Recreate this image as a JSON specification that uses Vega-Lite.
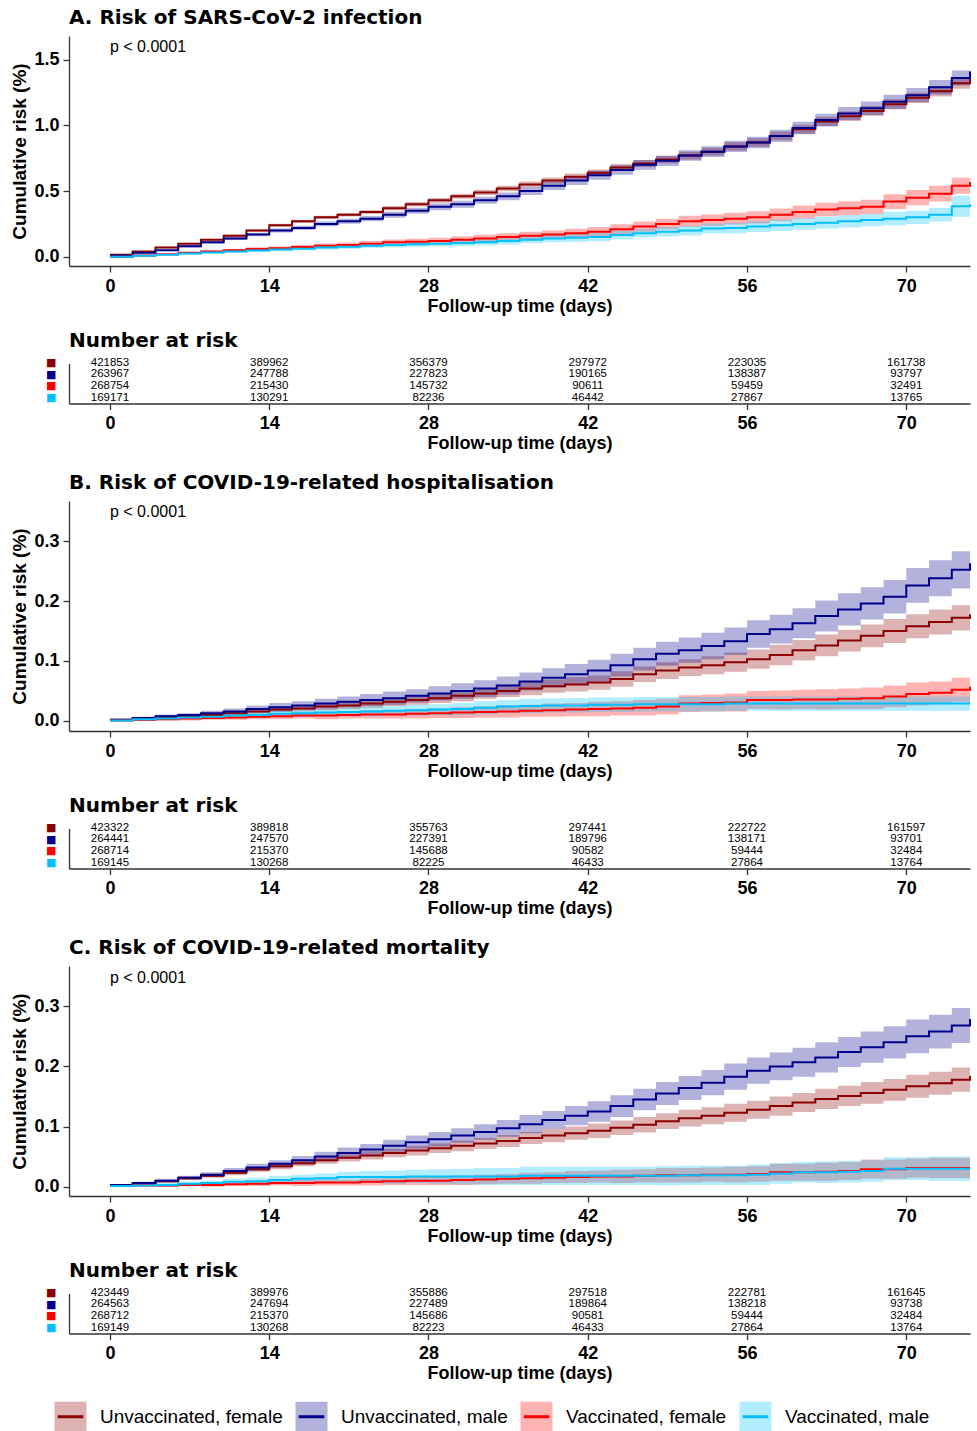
{
"$schema": "https://vega.github.io/schema/vega-lite/v6.json",
"background": "white",
"padding": {"left": 10, "top": 8, "right": 7, "bottom": 0},
"bounds": "flush",
"spacing": 97.5,
"config": {
 "view": {"stroke": null},
 "font": "Liberation Sans",
 "axis": {"domainColor": "#333", "tickColor": "#333", "tickSize": 6, "domainWidth": 1.3, "tickWidth": 1.3, "labelFont": "Liberation Sans", "labelFontSize": 18, "labelFontWeight": "bold", "labelColor": "#000", "titleFont": "Liberation Sans", "titleFontSize": 18, "titleFontWeight": "bold", "titleColor": "#000", "grid": false, "labelFlush": false, "labelOverlap": false},
 "axisX": {"labelPadding": 5, "titlePadding": 2},
 "axisY": {"labelPadding": 4, "titlePadding": 4, "titleFontSize": 19},
 "title": {"font": "DejaVu Sans", "fontSize": 20, "fontWeight": "bold", "anchor": "start", "frame": "group", "color": "#000"},
 "legend": {"labelFont": "Liberation Sans", "labelFontSize": 19, "labelColor": "#000", "labelOffset": 12, "columnPadding": 6, "symbolSize": 1024, "symbolStrokeWidth": 3, "labelLimit": 400}
},
"resolve": {"scale": {"fill": "shared", "stroke": "shared"}, "legend": {"fill": "shared", "stroke": "shared"}},
"datasets": {
"km": [
{"p":"A","g":"UF","d":0,"y":0.015,"lo":0.011,"hi":0.019},
{"p":"A","g":"UF","d":2,"y":0.04,"lo":0.035,"hi":0.045},
{"p":"A","g":"UF","d":4,"y":0.07,"lo":0.064,"hi":0.076},
{"p":"A","g":"UF","d":6,"y":0.10,"lo":0.093,"hi":0.107},
{"p":"A","g":"UF","d":8,"y":0.13,"lo":0.122,"hi":0.138},
{"p":"A","g":"UF","d":10,"y":0.16,"lo":0.151,"hi":0.169},
{"p":"A","g":"UF","d":12,"y":0.20,"lo":0.19,"hi":0.21},
{"p":"A","g":"UF","d":14,"y":0.24,"lo":0.229,"hi":0.251},
{"p":"A","g":"UF","d":16,"y":0.27,"lo":0.258,"hi":0.282},
{"p":"A","g":"UF","d":18,"y":0.30,"lo":0.287,"hi":0.313},
{"p":"A","g":"UF","d":20,"y":0.32,"lo":0.306,"hi":0.334},
{"p":"A","g":"UF","d":22,"y":0.34,"lo":0.325,"hi":0.355},
{"p":"A","g":"UF","d":24,"y":0.37,"lo":0.354,"hi":0.386},
{"p":"A","g":"UF","d":26,"y":0.40,"lo":0.383,"hi":0.417},
{"p":"A","g":"UF","d":28,"y":0.43,"lo":0.412,"hi":0.448},
{"p":"A","g":"UF","d":30,"y":0.46,"lo":0.441,"hi":0.479},
{"p":"A","g":"UF","d":32,"y":0.49,"lo":0.47,"hi":0.51},
{"p":"A","g":"UF","d":34,"y":0.52,"lo":0.499,"hi":0.541},
{"p":"A","g":"UF","d":36,"y":0.55,"lo":0.528,"hi":0.572},
{"p":"A","g":"UF","d":38,"y":0.58,"lo":0.557,"hi":0.603},
{"p":"A","g":"UF","d":40,"y":0.61,"lo":0.586,"hi":0.634},
{"p":"A","g":"UF","d":42,"y":0.64,"lo":0.615,"hi":0.665},
{"p":"A","g":"UF","d":44,"y":0.68,"lo":0.654,"hi":0.706},
{"p":"A","g":"UF","d":46,"y":0.71,"lo":0.683,"hi":0.737},
{"p":"A","g":"UF","d":48,"y":0.74,"lo":0.712,"hi":0.768},
{"p":"A","g":"UF","d":50,"y":0.77,"lo":0.741,"hi":0.799},
{"p":"A","g":"UF","d":52,"y":0.80,"lo":0.77,"hi":0.83},
{"p":"A","g":"UF","d":54,"y":0.84,"lo":0.809,"hi":0.871},
{"p":"A","g":"UF","d":56,"y":0.87,"lo":0.838,"hi":0.902},
{"p":"A","g":"UF","d":58,"y":0.92,"lo":0.887,"hi":0.953},
{"p":"A","g":"UF","d":60,"y":0.97,"lo":0.936,"hi":1.004},
{"p":"A","g":"UF","d":62,"y":1.03,"lo":0.995,"hi":1.065},
{"p":"A","g":"UF","d":64,"y":1.07,"lo":1.034,"hi":1.106},
{"p":"A","g":"UF","d":66,"y":1.11,"lo":1.073,"hi":1.147},
{"p":"A","g":"UF","d":68,"y":1.16,"lo":1.122,"hi":1.198},
{"p":"A","g":"UF","d":70,"y":1.21,"lo":1.171,"hi":1.249},
{"p":"A","g":"UF","d":72,"y":1.26,"lo":1.22,"hi":1.30},
{"p":"A","g":"UF","d":74,"y":1.32,"lo":1.279,"hi":1.361},
{"p":"A","g":"UF","d":75.6,"y":1.37,"lo":1.328,"hi":1.412},
{"p":"A","g":"UM","d":0,"y":0.01,"lo":0.005,"hi":0.015},
{"p":"A","g":"UM","d":2,"y":0.03,"lo":0.024,"hi":0.036},
{"p":"A","g":"UM","d":4,"y":0.05,"lo":0.042,"hi":0.058},
{"p":"A","g":"UM","d":6,"y":0.08,"lo":0.071,"hi":0.089},
{"p":"A","g":"UM","d":8,"y":0.11,"lo":0.099,"hi":0.121},
{"p":"A","g":"UM","d":10,"y":0.14,"lo":0.128,"hi":0.152},
{"p":"A","g":"UM","d":12,"y":0.17,"lo":0.157,"hi":0.183},
{"p":"A","g":"UM","d":14,"y":0.20,"lo":0.185,"hi":0.215},
{"p":"A","g":"UM","d":16,"y":0.22,"lo":0.204,"hi":0.236},
{"p":"A","g":"UM","d":18,"y":0.25,"lo":0.232,"hi":0.268},
{"p":"A","g":"UM","d":20,"y":0.27,"lo":0.251,"hi":0.289},
{"p":"A","g":"UM","d":22,"y":0.29,"lo":0.27,"hi":0.31},
{"p":"A","g":"UM","d":24,"y":0.32,"lo":0.298,"hi":0.342},
{"p":"A","g":"UM","d":26,"y":0.35,"lo":0.327,"hi":0.373},
{"p":"A","g":"UM","d":28,"y":0.38,"lo":0.355,"hi":0.405},
{"p":"A","g":"UM","d":30,"y":0.40,"lo":0.374,"hi":0.426},
{"p":"A","g":"UM","d":32,"y":0.43,"lo":0.403,"hi":0.457},
{"p":"A","g":"UM","d":34,"y":0.46,"lo":0.431,"hi":0.489},
{"p":"A","g":"UM","d":36,"y":0.50,"lo":0.47,"hi":0.53},
{"p":"A","g":"UM","d":38,"y":0.54,"lo":0.508,"hi":0.572},
{"p":"A","g":"UM","d":40,"y":0.58,"lo":0.547,"hi":0.613},
{"p":"A","g":"UM","d":42,"y":0.62,"lo":0.586,"hi":0.654},
{"p":"A","g":"UM","d":44,"y":0.66,"lo":0.624,"hi":0.696},
{"p":"A","g":"UM","d":46,"y":0.70,"lo":0.663,"hi":0.737},
{"p":"A","g":"UM","d":48,"y":0.73,"lo":0.691,"hi":0.769},
{"p":"A","g":"UM","d":50,"y":0.77,"lo":0.73,"hi":0.81},
{"p":"A","g":"UM","d":52,"y":0.80,"lo":0.759,"hi":0.841},
{"p":"A","g":"UM","d":54,"y":0.84,"lo":0.797,"hi":0.883},
{"p":"A","g":"UM","d":56,"y":0.87,"lo":0.826,"hi":0.914},
{"p":"A","g":"UM","d":58,"y":0.92,"lo":0.874,"hi":0.966},
{"p":"A","g":"UM","d":60,"y":0.98,"lo":0.933,"hi":1.027},
{"p":"A","g":"UM","d":62,"y":1.04,"lo":0.992,"hi":1.088},
{"p":"A","g":"UM","d":64,"y":1.09,"lo":1.04,"hi":1.14},
{"p":"A","g":"UM","d":66,"y":1.13,"lo":1.079,"hi":1.181},
{"p":"A","g":"UM","d":68,"y":1.18,"lo":1.127,"hi":1.233},
{"p":"A","g":"UM","d":70,"y":1.23,"lo":1.176,"hi":1.284},
{"p":"A","g":"UM","d":72,"y":1.29,"lo":1.235,"hi":1.345},
{"p":"A","g":"UM","d":74,"y":1.36,"lo":1.303,"hi":1.417},
{"p":"A","g":"UM","d":75.6,"y":1.41,"lo":1.352,"hi":1.468},
{"p":"A","g":"VF","d":0,"y":0.0,"lo":0.0,"hi":0.002},
{"p":"A","g":"VF","d":2,"y":0.01,"lo":0.006,"hi":0.014},
{"p":"A","g":"VF","d":4,"y":0.02,"lo":0.015,"hi":0.025},
{"p":"A","g":"VF","d":6,"y":0.03,"lo":0.023,"hi":0.037},
{"p":"A","g":"VF","d":8,"y":0.04,"lo":0.032,"hi":0.048},
{"p":"A","g":"VF","d":10,"y":0.05,"lo":0.04,"hi":0.06},
{"p":"A","g":"VF","d":12,"y":0.06,"lo":0.048,"hi":0.072},
{"p":"A","g":"VF","d":14,"y":0.065,"lo":0.052,"hi":0.078},
{"p":"A","g":"VF","d":16,"y":0.075,"lo":0.06,"hi":0.09},
{"p":"A","g":"VF","d":18,"y":0.085,"lo":0.069,"hi":0.101},
{"p":"A","g":"VF","d":20,"y":0.09,"lo":0.072,"hi":0.108},
{"p":"A","g":"VF","d":22,"y":0.10,"lo":0.08,"hi":0.12},
{"p":"A","g":"VF","d":24,"y":0.11,"lo":0.089,"hi":0.131},
{"p":"A","g":"VF","d":26,"y":0.115,"lo":0.092,"hi":0.138},
{"p":"A","g":"VF","d":28,"y":0.12,"lo":0.096,"hi":0.144},
{"p":"A","g":"VF","d":30,"y":0.13,"lo":0.104,"hi":0.156},
{"p":"A","g":"VF","d":32,"y":0.14,"lo":0.112,"hi":0.168},
{"p":"A","g":"VF","d":34,"y":0.15,"lo":0.121,"hi":0.179},
{"p":"A","g":"VF","d":36,"y":0.16,"lo":0.129,"hi":0.191},
{"p":"A","g":"VF","d":38,"y":0.17,"lo":0.138,"hi":0.202},
{"p":"A","g":"VF","d":40,"y":0.18,"lo":0.146,"hi":0.214},
{"p":"A","g":"VF","d":42,"y":0.19,"lo":0.154,"hi":0.226},
{"p":"A","g":"VF","d":44,"y":0.21,"lo":0.173,"hi":0.247},
{"p":"A","g":"VF","d":46,"y":0.23,"lo":0.191,"hi":0.269},
{"p":"A","g":"VF","d":48,"y":0.25,"lo":0.21,"hi":0.29},
{"p":"A","g":"VF","d":50,"y":0.27,"lo":0.228,"hi":0.312},
{"p":"A","g":"VF","d":52,"y":0.28,"lo":0.236,"hi":0.324},
{"p":"A","g":"VF","d":54,"y":0.29,"lo":0.245,"hi":0.335},
{"p":"A","g":"VF","d":56,"y":0.30,"lo":0.253,"hi":0.347},
{"p":"A","g":"VF","d":58,"y":0.32,"lo":0.272,"hi":0.368},
{"p":"A","g":"VF","d":60,"y":0.34,"lo":0.29,"hi":0.39},
{"p":"A","g":"VF","d":62,"y":0.36,"lo":0.308,"hi":0.412},
{"p":"A","g":"VF","d":64,"y":0.37,"lo":0.317,"hi":0.423},
{"p":"A","g":"VF","d":66,"y":0.38,"lo":0.325,"hi":0.435},
{"p":"A","g":"VF","d":68,"y":0.42,"lo":0.364,"hi":0.476},
{"p":"A","g":"VF","d":70,"y":0.45,"lo":0.392,"hi":0.508},
{"p":"A","g":"VF","d":72,"y":0.48,"lo":0.42,"hi":0.54},
{"p":"A","g":"VF","d":74,"y":0.54,"lo":0.479,"hi":0.601},
{"p":"A","g":"VF","d":75.6,"y":0.57,"lo":0.508,"hi":0.632},
{"p":"A","g":"VM","d":0,"y":0.0,"lo":0.0,"hi":0.002},
{"p":"A","g":"VM","d":2,"y":0.008,"lo":0.005,"hi":0.011},
{"p":"A","g":"VM","d":4,"y":0.015,"lo":0.01,"hi":0.02},
{"p":"A","g":"VM","d":6,"y":0.025,"lo":0.019,"hi":0.031},
{"p":"A","g":"VM","d":8,"y":0.033,"lo":0.025,"hi":0.041},
{"p":"A","g":"VM","d":10,"y":0.04,"lo":0.031,"hi":0.049},
{"p":"A","g":"VM","d":12,"y":0.048,"lo":0.038,"hi":0.058},
{"p":"A","g":"VM","d":14,"y":0.055,"lo":0.043,"hi":0.067},
{"p":"A","g":"VM","d":16,"y":0.062,"lo":0.049,"hi":0.075},
{"p":"A","g":"VM","d":18,"y":0.07,"lo":0.055,"hi":0.085},
{"p":"A","g":"VM","d":20,"y":0.077,"lo":0.061,"hi":0.093},
{"p":"A","g":"VM","d":22,"y":0.085,"lo":0.068,"hi":0.102},
{"p":"A","g":"VM","d":24,"y":0.09,"lo":0.071,"hi":0.109},
{"p":"A","g":"VM","d":26,"y":0.095,"lo":0.075,"hi":0.115},
{"p":"A","g":"VM","d":28,"y":0.10,"lo":0.078,"hi":0.122},
{"p":"A","g":"VM","d":30,"y":0.105,"lo":0.082,"hi":0.128},
{"p":"A","g":"VM","d":32,"y":0.11,"lo":0.086,"hi":0.134},
{"p":"A","g":"VM","d":34,"y":0.12,"lo":0.094,"hi":0.146},
{"p":"A","g":"VM","d":36,"y":0.13,"lo":0.103,"hi":0.157},
{"p":"A","g":"VM","d":38,"y":0.14,"lo":0.111,"hi":0.169},
{"p":"A","g":"VM","d":40,"y":0.145,"lo":0.115,"hi":0.175},
{"p":"A","g":"VM","d":42,"y":0.15,"lo":0.119,"hi":0.181},
{"p":"A","g":"VM","d":44,"y":0.165,"lo":0.132,"hi":0.198},
{"p":"A","g":"VM","d":46,"y":0.18,"lo":0.146,"hi":0.214},
{"p":"A","g":"VM","d":48,"y":0.19,"lo":0.154,"hi":0.226},
{"p":"A","g":"VM","d":50,"y":0.20,"lo":0.163,"hi":0.237},
{"p":"A","g":"VM","d":52,"y":0.215,"lo":0.177,"hi":0.253},
{"p":"A","g":"VM","d":54,"y":0.22,"lo":0.18,"hi":0.26},
{"p":"A","g":"VM","d":56,"y":0.23,"lo":0.189,"hi":0.271},
{"p":"A","g":"VM","d":58,"y":0.24,"lo":0.197,"hi":0.283},
{"p":"A","g":"VM","d":60,"y":0.25,"lo":0.206,"hi":0.294},
{"p":"A","g":"VM","d":62,"y":0.26,"lo":0.215,"hi":0.305},
{"p":"A","g":"VM","d":64,"y":0.27,"lo":0.223,"hi":0.317},
{"p":"A","g":"VM","d":66,"y":0.28,"lo":0.232,"hi":0.328},
{"p":"A","g":"VM","d":68,"y":0.29,"lo":0.24,"hi":0.34},
{"p":"A","g":"VM","d":70,"y":0.30,"lo":0.249,"hi":0.351},
{"p":"A","g":"VM","d":72,"y":0.32,"lo":0.268,"hi":0.372},
{"p":"A","g":"VM","d":74,"y":0.385,"lo":0.305,"hi":0.465},
{"p":"A","g":"VM","d":75.6,"y":0.40,"lo":0.315,"hi":0.485},
{"p":"B","g":"UF","d":0,"y":0.002,"lo":0.001,"hi":0.003},
{"p":"B","g":"UF","d":2,"y":0.004,"lo":0.003,"hi":0.005},
{"p":"B","g":"UF","d":4,"y":0.006,"lo":0.004,"hi":0.008},
{"p":"B","g":"UF","d":6,"y":0.008,"lo":0.006,"hi":0.010},
{"p":"B","g":"UF","d":8,"y":0.010,"lo":0.007,"hi":0.013},
{"p":"B","g":"UF","d":10,"y":0.013,"lo":0.010,"hi":0.016},
{"p":"B","g":"UF","d":12,"y":0.016,"lo":0.012,"hi":0.020},
{"p":"B","g":"UF","d":14,"y":0.019,"lo":0.015,"hi":0.023},
{"p":"B","g":"UF","d":16,"y":0.021,"lo":0.016,"hi":0.026},
{"p":"B","g":"UF","d":18,"y":0.024,"lo":0.018,"hi":0.030},
{"p":"B","g":"UF","d":20,"y":0.026,"lo":0.020,"hi":0.032},
{"p":"B","g":"UF","d":22,"y":0.029,"lo":0.022,"hi":0.036},
{"p":"B","g":"UF","d":24,"y":0.032,"lo":0.025,"hi":0.039},
{"p":"B","g":"UF","d":26,"y":0.035,"lo":0.027,"hi":0.043},
{"p":"B","g":"UF","d":28,"y":0.038,"lo":0.030,"hi":0.046},
{"p":"B","g":"UF","d":30,"y":0.042,"lo":0.033,"hi":0.051},
{"p":"B","g":"UF","d":32,"y":0.046,"lo":0.037,"hi":0.055},
{"p":"B","g":"UF","d":34,"y":0.050,"lo":0.040,"hi":0.060},
{"p":"B","g":"UF","d":36,"y":0.054,"lo":0.043,"hi":0.065},
{"p":"B","g":"UF","d":38,"y":0.058,"lo":0.047,"hi":0.069},
{"p":"B","g":"UF","d":40,"y":0.061,"lo":0.049,"hi":0.073},
{"p":"B","g":"UF","d":42,"y":0.064,"lo":0.052,"hi":0.076},
{"p":"B","g":"UF","d":44,"y":0.070,"lo":0.057,"hi":0.083},
{"p":"B","g":"UF","d":46,"y":0.078,"lo":0.065,"hi":0.091},
{"p":"B","g":"UF","d":48,"y":0.084,"lo":0.070,"hi":0.098},
{"p":"B","g":"UF","d":50,"y":0.089,"lo":0.075,"hi":0.103},
{"p":"B","g":"UF","d":52,"y":0.093,"lo":0.078,"hi":0.108},
{"p":"B","g":"UF","d":54,"y":0.098,"lo":0.082,"hi":0.114},
{"p":"B","g":"UF","d":56,"y":0.103,"lo":0.087,"hi":0.119},
{"p":"B","g":"UF","d":58,"y":0.110,"lo":0.093,"hi":0.127},
{"p":"B","g":"UF","d":60,"y":0.118,"lo":0.101,"hi":0.135},
{"p":"B","g":"UF","d":62,"y":0.126,"lo":0.108,"hi":0.144},
{"p":"B","g":"UF","d":64,"y":0.134,"lo":0.116,"hi":0.152},
{"p":"B","g":"UF","d":66,"y":0.142,"lo":0.123,"hi":0.161},
{"p":"B","g":"UF","d":68,"y":0.150,"lo":0.130,"hi":0.170},
{"p":"B","g":"UF","d":70,"y":0.158,"lo":0.138,"hi":0.178},
{"p":"B","g":"UF","d":72,"y":0.165,"lo":0.144,"hi":0.186},
{"p":"B","g":"UF","d":74,"y":0.172,"lo":0.151,"hi":0.193},
{"p":"B","g":"UF","d":75.6,"y":0.178,"lo":0.156,"hi":0.200},
{"p":"B","g":"UM","d":0,"y":0.002,"lo":0.001,"hi":0.003},
{"p":"B","g":"UM","d":2,"y":0.005,"lo":0.003,"hi":0.007},
{"p":"B","g":"UM","d":4,"y":0.008,"lo":0.005,"hi":0.011},
{"p":"B","g":"UM","d":6,"y":0.010,"lo":0.007,"hi":0.013},
{"p":"B","g":"UM","d":8,"y":0.013,"lo":0.009,"hi":0.017},
{"p":"B","g":"UM","d":10,"y":0.016,"lo":0.011,"hi":0.021},
{"p":"B","g":"UM","d":12,"y":0.020,"lo":0.014,"hi":0.026},
{"p":"B","g":"UM","d":14,"y":0.023,"lo":0.016,"hi":0.030},
{"p":"B","g":"UM","d":16,"y":0.026,"lo":0.019,"hi":0.033},
{"p":"B","g":"UM","d":18,"y":0.029,"lo":0.021,"hi":0.037},
{"p":"B","g":"UM","d":20,"y":0.032,"lo":0.023,"hi":0.041},
{"p":"B","g":"UM","d":22,"y":0.035,"lo":0.025,"hi":0.045},
{"p":"B","g":"UM","d":24,"y":0.038,"lo":0.027,"hi":0.049},
{"p":"B","g":"UM","d":26,"y":0.042,"lo":0.031,"hi":0.053},
{"p":"B","g":"UM","d":28,"y":0.046,"lo":0.034,"hi":0.058},
{"p":"B","g":"UM","d":30,"y":0.050,"lo":0.037,"hi":0.063},
{"p":"B","g":"UM","d":32,"y":0.054,"lo":0.040,"hi":0.068},
{"p":"B","g":"UM","d":34,"y":0.059,"lo":0.044,"hi":0.074},
{"p":"B","g":"UM","d":36,"y":0.066,"lo":0.051,"hi":0.081},
{"p":"B","g":"UM","d":38,"y":0.072,"lo":0.056,"hi":0.088},
{"p":"B","g":"UM","d":40,"y":0.078,"lo":0.061,"hi":0.095},
{"p":"B","g":"UM","d":42,"y":0.084,"lo":0.066,"hi":0.102},
{"p":"B","g":"UM","d":44,"y":0.093,"lo":0.074,"hi":0.112},
{"p":"B","g":"UM","d":46,"y":0.103,"lo":0.084,"hi":0.122},
{"p":"B","g":"UM","d":48,"y":0.112,"lo":0.092,"hi":0.132},
{"p":"B","g":"UM","d":50,"y":0.118,"lo":0.097,"hi":0.139},
{"p":"B","g":"UM","d":52,"y":0.125,"lo":0.103,"hi":0.147},
{"p":"B","g":"UM","d":54,"y":0.133,"lo":0.110,"hi":0.156},
{"p":"B","g":"UM","d":56,"y":0.145,"lo":0.122,"hi":0.168},
{"p":"B","g":"UM","d":58,"y":0.153,"lo":0.129,"hi":0.177},
{"p":"B","g":"UM","d":60,"y":0.163,"lo":0.138,"hi":0.188},
{"p":"B","g":"UM","d":62,"y":0.175,"lo":0.149,"hi":0.201},
{"p":"B","g":"UM","d":64,"y":0.186,"lo":0.159,"hi":0.213},
{"p":"B","g":"UM","d":66,"y":0.196,"lo":0.169,"hi":0.223},
{"p":"B","g":"UM","d":68,"y":0.207,"lo":0.179,"hi":0.235},
{"p":"B","g":"UM","d":70,"y":0.226,"lo":0.197,"hi":0.255},
{"p":"B","g":"UM","d":72,"y":0.238,"lo":0.208,"hi":0.268},
{"p":"B","g":"UM","d":74,"y":0.252,"lo":0.221,"hi":0.283},
{"p":"B","g":"UM","d":75.6,"y":0.263,"lo":0.232,"hi":0.294},
{"p":"B","g":"VF","d":0,"y":0.001,"lo":0.0,"hi":0.002},
{"p":"B","g":"VF","d":2,"y":0.002,"lo":0.0,"hi":0.004},
{"p":"B","g":"VF","d":4,"y":0.003,"lo":0.001,"hi":0.005},
{"p":"B","g":"VF","d":6,"y":0.004,"lo":0.001,"hi":0.007},
{"p":"B","g":"VF","d":8,"y":0.005,"lo":0.002,"hi":0.008},
{"p":"B","g":"VF","d":10,"y":0.006,"lo":0.002,"hi":0.010},
{"p":"B","g":"VF","d":12,"y":0.007,"lo":0.003,"hi":0.011},
{"p":"B","g":"VF","d":14,"y":0.008,"lo":0.003,"hi":0.013},
{"p":"B","g":"VF","d":16,"y":0.009,"lo":0.004,"hi":0.014},
{"p":"B","g":"VF","d":18,"y":0.009,"lo":0.003,"hi":0.015},
{"p":"B","g":"VF","d":20,"y":0.010,"lo":0.004,"hi":0.016},
{"p":"B","g":"VF","d":22,"y":0.011,"lo":0.004,"hi":0.018},
{"p":"B","g":"VF","d":24,"y":0.011,"lo":0.004,"hi":0.018},
{"p":"B","g":"VF","d":26,"y":0.012,"lo":0.004,"hi":0.020},
{"p":"B","g":"VF","d":28,"y":0.013,"lo":0.005,"hi":0.021},
{"p":"B","g":"VF","d":30,"y":0.014,"lo":0.005,"hi":0.023},
{"p":"B","g":"VF","d":32,"y":0.015,"lo":0.006,"hi":0.024},
{"p":"B","g":"VF","d":34,"y":0.016,"lo":0.006,"hi":0.026},
{"p":"B","g":"VF","d":36,"y":0.017,"lo":0.007,"hi":0.027},
{"p":"B","g":"VF","d":38,"y":0.018,"lo":0.007,"hi":0.029},
{"p":"B","g":"VF","d":40,"y":0.019,"lo":0.008,"hi":0.030},
{"p":"B","g":"VF","d":42,"y":0.020,"lo":0.008,"hi":0.032},
{"p":"B","g":"VF","d":44,"y":0.021,"lo":0.009,"hi":0.033},
{"p":"B","g":"VF","d":46,"y":0.022,"lo":0.009,"hi":0.035},
{"p":"B","g":"VF","d":48,"y":0.024,"lo":0.011,"hi":0.037},
{"p":"B","g":"VF","d":50,"y":0.029,"lo":0.015,"hi":0.043},
{"p":"B","g":"VF","d":52,"y":0.030,"lo":0.016,"hi":0.044},
{"p":"B","g":"VF","d":54,"y":0.031,"lo":0.016,"hi":0.046},
{"p":"B","g":"VF","d":56,"y":0.035,"lo":0.020,"hi":0.050},
{"p":"B","g":"VF","d":58,"y":0.035,"lo":0.019,"hi":0.051},
{"p":"B","g":"VF","d":60,"y":0.036,"lo":0.020,"hi":0.052},
{"p":"B","g":"VF","d":62,"y":0.036,"lo":0.019,"hi":0.053},
{"p":"B","g":"VF","d":64,"y":0.037,"lo":0.020,"hi":0.054},
{"p":"B","g":"VF","d":66,"y":0.038,"lo":0.020,"hi":0.056},
{"p":"B","g":"VF","d":68,"y":0.041,"lo":0.023,"hi":0.059},
{"p":"B","g":"VF","d":70,"y":0.045,"lo":0.026,"hi":0.064},
{"p":"B","g":"VF","d":72,"y":0.047,"lo":0.028,"hi":0.066},
{"p":"B","g":"VF","d":74,"y":0.052,"lo":0.032,"hi":0.072},
{"p":"B","g":"VF","d":75.6,"y":0.057,"lo":0.037,"hi":0.077},
{"p":"B","g":"VM","d":0,"y":0.001,"lo":0.0,"hi":0.002},
{"p":"B","g":"VM","d":2,"y":0.003,"lo":0.001,"hi":0.005},
{"p":"B","g":"VM","d":4,"y":0.004,"lo":0.002,"hi":0.006},
{"p":"B","g":"VM","d":6,"y":0.006,"lo":0.003,"hi":0.009},
{"p":"B","g":"VM","d":8,"y":0.007,"lo":0.004,"hi":0.010},
{"p":"B","g":"VM","d":10,"y":0.009,"lo":0.005,"hi":0.013},
{"p":"B","g":"VM","d":12,"y":0.010,"lo":0.005,"hi":0.015},
{"p":"B","g":"VM","d":14,"y":0.012,"lo":0.007,"hi":0.017},
{"p":"B","g":"VM","d":16,"y":0.013,"lo":0.007,"hi":0.019},
{"p":"B","g":"VM","d":18,"y":0.014,"lo":0.008,"hi":0.020},
{"p":"B","g":"VM","d":20,"y":0.015,"lo":0.008,"hi":0.022},
{"p":"B","g":"VM","d":22,"y":0.016,"lo":0.008,"hi":0.024},
{"p":"B","g":"VM","d":24,"y":0.017,"lo":0.009,"hi":0.025},
{"p":"B","g":"VM","d":26,"y":0.018,"lo":0.009,"hi":0.027},
{"p":"B","g":"VM","d":28,"y":0.019,"lo":0.010,"hi":0.028},
{"p":"B","g":"VM","d":30,"y":0.020,"lo":0.010,"hi":0.030},
{"p":"B","g":"VM","d":32,"y":0.022,"lo":0.011,"hi":0.033},
{"p":"B","g":"VM","d":34,"y":0.024,"lo":0.013,"hi":0.035},
{"p":"B","g":"VM","d":36,"y":0.025,"lo":0.013,"hi":0.037},
{"p":"B","g":"VM","d":38,"y":0.026,"lo":0.014,"hi":0.038},
{"p":"B","g":"VM","d":40,"y":0.026,"lo":0.014,"hi":0.038},
{"p":"B","g":"VM","d":42,"y":0.027,"lo":0.015,"hi":0.039},
{"p":"B","g":"VM","d":44,"y":0.027,"lo":0.015,"hi":0.039},
{"p":"B","g":"VM","d":46,"y":0.028,"lo":0.016,"hi":0.040},
{"p":"B","g":"VM","d":48,"y":0.028,"lo":0.016,"hi":0.040},
{"p":"B","g":"VM","d":50,"y":0.028,"lo":0.016,"hi":0.040},
{"p":"B","g":"VM","d":52,"y":0.028,"lo":0.016,"hi":0.040},
{"p":"B","g":"VM","d":54,"y":0.029,"lo":0.017,"hi":0.041},
{"p":"B","g":"VM","d":56,"y":0.029,"lo":0.017,"hi":0.041},
{"p":"B","g":"VM","d":58,"y":0.029,"lo":0.017,"hi":0.041},
{"p":"B","g":"VM","d":60,"y":0.029,"lo":0.017,"hi":0.041},
{"p":"B","g":"VM","d":62,"y":0.029,"lo":0.017,"hi":0.041},
{"p":"B","g":"VM","d":64,"y":0.029,"lo":0.017,"hi":0.041},
{"p":"B","g":"VM","d":66,"y":0.029,"lo":0.017,"hi":0.041},
{"p":"B","g":"VM","d":68,"y":0.029,"lo":0.017,"hi":0.041},
{"p":"B","g":"VM","d":70,"y":0.029,"lo":0.017,"hi":0.041},
{"p":"B","g":"VM","d":72,"y":0.029,"lo":0.017,"hi":0.041},
{"p":"B","g":"VM","d":74,"y":0.029,"lo":0.017,"hi":0.041},
{"p":"B","g":"VM","d":75.6,"y":0.029,"lo":0.017,"hi":0.041},
{"p":"C","g":"UF","d":0,"y":0.003,"lo":0.002,"hi":0.004},
{"p":"C","g":"UF","d":2,"y":0.005,"lo":0.003,"hi":0.007},
{"p":"C","g":"UF","d":4,"y":0.009,"lo":0.007,"hi":0.011},
{"p":"C","g":"UF","d":6,"y":0.014,"lo":0.011,"hi":0.017},
{"p":"C","g":"UF","d":8,"y":0.018,"lo":0.015,"hi":0.021},
{"p":"C","g":"UF","d":10,"y":0.023,"lo":0.019,"hi":0.027},
{"p":"C","g":"UF","d":12,"y":0.029,"lo":0.025,"hi":0.033},
{"p":"C","g":"UF","d":14,"y":0.034,"lo":0.029,"hi":0.039},
{"p":"C","g":"UF","d":16,"y":0.039,"lo":0.034,"hi":0.044},
{"p":"C","g":"UF","d":18,"y":0.044,"lo":0.038,"hi":0.050},
{"p":"C","g":"UF","d":20,"y":0.048,"lo":0.042,"hi":0.054},
{"p":"C","g":"UF","d":22,"y":0.052,"lo":0.045,"hi":0.059},
{"p":"C","g":"UF","d":24,"y":0.056,"lo":0.049,"hi":0.063},
{"p":"C","g":"UF","d":26,"y":0.060,"lo":0.052,"hi":0.068},
{"p":"C","g":"UF","d":28,"y":0.064,"lo":0.056,"hi":0.072},
{"p":"C","g":"UF","d":30,"y":0.068,"lo":0.059,"hi":0.077},
{"p":"C","g":"UF","d":32,"y":0.072,"lo":0.063,"hi":0.081},
{"p":"C","g":"UF","d":34,"y":0.076,"lo":0.066,"hi":0.086},
{"p":"C","g":"UF","d":36,"y":0.081,"lo":0.071,"hi":0.091},
{"p":"C","g":"UF","d":38,"y":0.085,"lo":0.074,"hi":0.096},
{"p":"C","g":"UF","d":40,"y":0.089,"lo":0.078,"hi":0.100},
{"p":"C","g":"UF","d":42,"y":0.093,"lo":0.081,"hi":0.105},
{"p":"C","g":"UF","d":44,"y":0.098,"lo":0.086,"hi":0.110},
{"p":"C","g":"UF","d":46,"y":0.103,"lo":0.090,"hi":0.116},
{"p":"C","g":"UF","d":48,"y":0.109,"lo":0.096,"hi":0.122},
{"p":"C","g":"UF","d":50,"y":0.114,"lo":0.100,"hi":0.128},
{"p":"C","g":"UF","d":52,"y":0.118,"lo":0.104,"hi":0.132},
{"p":"C","g":"UF","d":54,"y":0.123,"lo":0.108,"hi":0.138},
{"p":"C","g":"UF","d":56,"y":0.128,"lo":0.113,"hi":0.143},
{"p":"C","g":"UF","d":58,"y":0.134,"lo":0.118,"hi":0.150},
{"p":"C","g":"UF","d":60,"y":0.140,"lo":0.124,"hi":0.156},
{"p":"C","g":"UF","d":62,"y":0.146,"lo":0.129,"hi":0.163},
{"p":"C","g":"UF","d":64,"y":0.151,"lo":0.134,"hi":0.168},
{"p":"C","g":"UF","d":66,"y":0.156,"lo":0.138,"hi":0.174},
{"p":"C","g":"UF","d":68,"y":0.161,"lo":0.143,"hi":0.179},
{"p":"C","g":"UF","d":70,"y":0.167,"lo":0.148,"hi":0.186},
{"p":"C","g":"UF","d":72,"y":0.172,"lo":0.153,"hi":0.191},
{"p":"C","g":"UF","d":74,"y":0.178,"lo":0.158,"hi":0.198},
{"p":"C","g":"UF","d":75.6,"y":0.184,"lo":0.164,"hi":0.204},
{"p":"C","g":"UM","d":0,"y":0.003,"lo":0.002,"hi":0.004},
{"p":"C","g":"UM","d":2,"y":0.006,"lo":0.004,"hi":0.008},
{"p":"C","g":"UM","d":4,"y":0.010,"lo":0.007,"hi":0.013},
{"p":"C","g":"UM","d":6,"y":0.015,"lo":0.012,"hi":0.018},
{"p":"C","g":"UM","d":8,"y":0.020,"lo":0.016,"hi":0.024},
{"p":"C","g":"UM","d":10,"y":0.026,"lo":0.021,"hi":0.031},
{"p":"C","g":"UM","d":12,"y":0.032,"lo":0.026,"hi":0.038},
{"p":"C","g":"UM","d":14,"y":0.038,"lo":0.032,"hi":0.044},
{"p":"C","g":"UM","d":16,"y":0.044,"lo":0.037,"hi":0.051},
{"p":"C","g":"UM","d":18,"y":0.050,"lo":0.042,"hi":0.058},
{"p":"C","g":"UM","d":20,"y":0.056,"lo":0.047,"hi":0.065},
{"p":"C","g":"UM","d":22,"y":0.062,"lo":0.053,"hi":0.071},
{"p":"C","g":"UM","d":24,"y":0.068,"lo":0.058,"hi":0.078},
{"p":"C","g":"UM","d":26,"y":0.074,"lo":0.063,"hi":0.085},
{"p":"C","g":"UM","d":28,"y":0.079,"lo":0.067,"hi":0.091},
{"p":"C","g":"UM","d":30,"y":0.085,"lo":0.073,"hi":0.097},
{"p":"C","g":"UM","d":32,"y":0.091,"lo":0.078,"hi":0.104},
{"p":"C","g":"UM","d":34,"y":0.097,"lo":0.083,"hi":0.111},
{"p":"C","g":"UM","d":36,"y":0.104,"lo":0.089,"hi":0.119},
{"p":"C","g":"UM","d":38,"y":0.111,"lo":0.096,"hi":0.126},
{"p":"C","g":"UM","d":40,"y":0.118,"lo":0.102,"hi":0.134},
{"p":"C","g":"UM","d":42,"y":0.125,"lo":0.108,"hi":0.142},
{"p":"C","g":"UM","d":44,"y":0.134,"lo":0.116,"hi":0.152},
{"p":"C","g":"UM","d":46,"y":0.145,"lo":0.127,"hi":0.163},
{"p":"C","g":"UM","d":48,"y":0.155,"lo":0.136,"hi":0.174},
{"p":"C","g":"UM","d":50,"y":0.164,"lo":0.144,"hi":0.184},
{"p":"C","g":"UM","d":52,"y":0.173,"lo":0.152,"hi":0.194},
{"p":"C","g":"UM","d":54,"y":0.183,"lo":0.161,"hi":0.205},
{"p":"C","g":"UM","d":56,"y":0.193,"lo":0.171,"hi":0.215},
{"p":"C","g":"UM","d":58,"y":0.200,"lo":0.177,"hi":0.223},
{"p":"C","g":"UM","d":60,"y":0.207,"lo":0.183,"hi":0.231},
{"p":"C","g":"UM","d":62,"y":0.215,"lo":0.190,"hi":0.240},
{"p":"C","g":"UM","d":64,"y":0.224,"lo":0.199,"hi":0.249},
{"p":"C","g":"UM","d":66,"y":0.232,"lo":0.206,"hi":0.258},
{"p":"C","g":"UM","d":68,"y":0.240,"lo":0.213,"hi":0.267},
{"p":"C","g":"UM","d":70,"y":0.250,"lo":0.222,"hi":0.278},
{"p":"C","g":"UM","d":72,"y":0.258,"lo":0.230,"hi":0.286},
{"p":"C","g":"UM","d":74,"y":0.268,"lo":0.239,"hi":0.297},
{"p":"C","g":"UM","d":75.6,"y":0.279,"lo":0.249,"hi":0.309},
{"p":"C","g":"VF","d":0,"y":0.001,"lo":0.0,"hi":0.002},
{"p":"C","g":"VF","d":2,"y":0.002,"lo":0.001,"hi":0.003},
{"p":"C","g":"VF","d":4,"y":0.002,"lo":0.0,"hi":0.004},
{"p":"C","g":"VF","d":6,"y":0.003,"lo":0.001,"hi":0.005},
{"p":"C","g":"VF","d":8,"y":0.003,"lo":0.0,"hi":0.006},
{"p":"C","g":"VF","d":10,"y":0.004,"lo":0.001,"hi":0.007},
{"p":"C","g":"VF","d":12,"y":0.005,"lo":0.001,"hi":0.009},
{"p":"C","g":"VF","d":14,"y":0.006,"lo":0.002,"hi":0.010},
{"p":"C","g":"VF","d":16,"y":0.006,"lo":0.001,"hi":0.011},
{"p":"C","g":"VF","d":18,"y":0.007,"lo":0.002,"hi":0.012},
{"p":"C","g":"VF","d":20,"y":0.007,"lo":0.002,"hi":0.012},
{"p":"C","g":"VF","d":22,"y":0.008,"lo":0.002,"hi":0.014},
{"p":"C","g":"VF","d":24,"y":0.009,"lo":0.003,"hi":0.015},
{"p":"C","g":"VF","d":26,"y":0.010,"lo":0.003,"hi":0.017},
{"p":"C","g":"VF","d":28,"y":0.010,"lo":0.003,"hi":0.017},
{"p":"C","g":"VF","d":30,"y":0.011,"lo":0.003,"hi":0.019},
{"p":"C","g":"VF","d":32,"y":0.012,"lo":0.004,"hi":0.020},
{"p":"C","g":"VF","d":34,"y":0.013,"lo":0.005,"hi":0.021},
{"p":"C","g":"VF","d":36,"y":0.014,"lo":0.005,"hi":0.023},
{"p":"C","g":"VF","d":38,"y":0.015,"lo":0.006,"hi":0.024},
{"p":"C","g":"VF","d":40,"y":0.016,"lo":0.006,"hi":0.026},
{"p":"C","g":"VF","d":42,"y":0.017,"lo":0.007,"hi":0.027},
{"p":"C","g":"VF","d":44,"y":0.017,"lo":0.006,"hi":0.028},
{"p":"C","g":"VF","d":46,"y":0.018,"lo":0.007,"hi":0.029},
{"p":"C","g":"VF","d":48,"y":0.019,"lo":0.007,"hi":0.031},
{"p":"C","g":"VF","d":50,"y":0.019,"lo":0.007,"hi":0.031},
{"p":"C","g":"VF","d":52,"y":0.020,"lo":0.008,"hi":0.032},
{"p":"C","g":"VF","d":54,"y":0.020,"lo":0.007,"hi":0.033},
{"p":"C","g":"VF","d":56,"y":0.021,"lo":0.008,"hi":0.034},
{"p":"C","g":"VF","d":58,"y":0.024,"lo":0.010,"hi":0.038},
{"p":"C","g":"VF","d":60,"y":0.024,"lo":0.010,"hi":0.038},
{"p":"C","g":"VF","d":62,"y":0.025,"lo":0.010,"hi":0.040},
{"p":"C","g":"VF","d":64,"y":0.026,"lo":0.011,"hi":0.041},
{"p":"C","g":"VF","d":66,"y":0.029,"lo":0.013,"hi":0.045},
{"p":"C","g":"VF","d":68,"y":0.029,"lo":0.013,"hi":0.045},
{"p":"C","g":"VF","d":70,"y":0.031,"lo":0.015,"hi":0.047},
{"p":"C","g":"VF","d":72,"y":0.031,"lo":0.014,"hi":0.048},
{"p":"C","g":"VF","d":74,"y":0.031,"lo":0.014,"hi":0.048},
{"p":"C","g":"VF","d":75.6,"y":0.031,"lo":0.013,"hi":0.049},
{"p":"C","g":"VM","d":0,"y":0.001,"lo":0.0,"hi":0.002},
{"p":"C","g":"VM","d":2,"y":0.002,"lo":0.0,"hi":0.004},
{"p":"C","g":"VM","d":4,"y":0.003,"lo":0.0,"hi":0.006},
{"p":"C","g":"VM","d":6,"y":0.005,"lo":0.002,"hi":0.008},
{"p":"C","g":"VM","d":8,"y":0.006,"lo":0.002,"hi":0.010},
{"p":"C","g":"VM","d":10,"y":0.008,"lo":0.003,"hi":0.013},
{"p":"C","g":"VM","d":12,"y":0.009,"lo":0.003,"hi":0.015},
{"p":"C","g":"VM","d":14,"y":0.011,"lo":0.004,"hi":0.018},
{"p":"C","g":"VM","d":16,"y":0.013,"lo":0.006,"hi":0.020},
{"p":"C","g":"VM","d":18,"y":0.014,"lo":0.006,"hi":0.022},
{"p":"C","g":"VM","d":20,"y":0.016,"lo":0.007,"hi":0.025},
{"p":"C","g":"VM","d":22,"y":0.016,"lo":0.006,"hi":0.026},
{"p":"C","g":"VM","d":24,"y":0.016,"lo":0.005,"hi":0.027},
{"p":"C","g":"VM","d":26,"y":0.017,"lo":0.006,"hi":0.028},
{"p":"C","g":"VM","d":28,"y":0.017,"lo":0.005,"hi":0.029},
{"p":"C","g":"VM","d":30,"y":0.017,"lo":0.004,"hi":0.030},
{"p":"C","g":"VM","d":32,"y":0.017,"lo":0.003,"hi":0.031},
{"p":"C","g":"VM","d":34,"y":0.017,"lo":0.003,"hi":0.031},
{"p":"C","g":"VM","d":36,"y":0.018,"lo":0.003,"hi":0.033},
{"p":"C","g":"VM","d":38,"y":0.018,"lo":0.003,"hi":0.033},
{"p":"C","g":"VM","d":40,"y":0.018,"lo":0.003,"hi":0.033},
{"p":"C","g":"VM","d":42,"y":0.018,"lo":0.003,"hi":0.033},
{"p":"C","g":"VM","d":44,"y":0.018,"lo":0.003,"hi":0.033},
{"p":"C","g":"VM","d":46,"y":0.018,"lo":0.003,"hi":0.033},
{"p":"C","g":"VM","d":48,"y":0.018,"lo":0.002,"hi":0.034},
{"p":"C","g":"VM","d":50,"y":0.019,"lo":0.003,"hi":0.035},
{"p":"C","g":"VM","d":52,"y":0.019,"lo":0.003,"hi":0.035},
{"p":"C","g":"VM","d":54,"y":0.019,"lo":0.003,"hi":0.035},
{"p":"C","g":"VM","d":56,"y":0.020,"lo":0.003,"hi":0.037},
{"p":"C","g":"VM","d":58,"y":0.022,"lo":0.005,"hi":0.039},
{"p":"C","g":"VM","d":60,"y":0.024,"lo":0.007,"hi":0.041},
{"p":"C","g":"VM","d":62,"y":0.024,"lo":0.006,"hi":0.042},
{"p":"C","g":"VM","d":64,"y":0.025,"lo":0.007,"hi":0.043},
{"p":"C","g":"VM","d":66,"y":0.026,"lo":0.008,"hi":0.044},
{"p":"C","g":"VM","d":68,"y":0.030,"lo":0.011,"hi":0.049},
{"p":"C","g":"VM","d":70,"y":0.030,"lo":0.011,"hi":0.049},
{"p":"C","g":"VM","d":72,"y":0.030,"lo":0.010,"hi":0.050},
{"p":"C","g":"VM","d":74,"y":0.030,"lo":0.010,"hi":0.050},
{"p":"C","g":"VM","d":75.6,"y":0.030,"lo":0.010,"hi":0.050}
],
"risk": [
{"p":"A","g":"UF","d":0,"n":421853},{"p":"A","g":"UF","d":14,"n":389962},{"p":"A","g":"UF","d":28,"n":356379},{"p":"A","g":"UF","d":42,"n":297972},{"p":"A","g":"UF","d":56,"n":223035},{"p":"A","g":"UF","d":70,"n":161738},
{"p":"A","g":"UM","d":0,"n":263967},{"p":"A","g":"UM","d":14,"n":247788},{"p":"A","g":"UM","d":28,"n":227823},{"p":"A","g":"UM","d":42,"n":190165},{"p":"A","g":"UM","d":56,"n":138387},{"p":"A","g":"UM","d":70,"n":93797},
{"p":"A","g":"VF","d":0,"n":268754},{"p":"A","g":"VF","d":14,"n":215430},{"p":"A","g":"VF","d":28,"n":145732},{"p":"A","g":"VF","d":42,"n":90611},{"p":"A","g":"VF","d":56,"n":59459},{"p":"A","g":"VF","d":70,"n":32491},
{"p":"A","g":"VM","d":0,"n":169171},{"p":"A","g":"VM","d":14,"n":130291},{"p":"A","g":"VM","d":28,"n":82236},{"p":"A","g":"VM","d":42,"n":46442},{"p":"A","g":"VM","d":56,"n":27867},{"p":"A","g":"VM","d":70,"n":13765},
{"p":"B","g":"UF","d":0,"n":423322},{"p":"B","g":"UF","d":14,"n":389818},{"p":"B","g":"UF","d":28,"n":355763},{"p":"B","g":"UF","d":42,"n":297441},{"p":"B","g":"UF","d":56,"n":222722},{"p":"B","g":"UF","d":70,"n":161597},
{"p":"B","g":"UM","d":0,"n":264441},{"p":"B","g":"UM","d":14,"n":247570},{"p":"B","g":"UM","d":28,"n":227391},{"p":"B","g":"UM","d":42,"n":189796},{"p":"B","g":"UM","d":56,"n":138171},{"p":"B","g":"UM","d":70,"n":93701},
{"p":"B","g":"VF","d":0,"n":268714},{"p":"B","g":"VF","d":14,"n":215370},{"p":"B","g":"VF","d":28,"n":145688},{"p":"B","g":"VF","d":42,"n":90582},{"p":"B","g":"VF","d":56,"n":59444},{"p":"B","g":"VF","d":70,"n":32484},
{"p":"B","g":"VM","d":0,"n":169145},{"p":"B","g":"VM","d":14,"n":130268},{"p":"B","g":"VM","d":28,"n":82225},{"p":"B","g":"VM","d":42,"n":46433},{"p":"B","g":"VM","d":56,"n":27864},{"p":"B","g":"VM","d":70,"n":13764},
{"p":"C","g":"UF","d":0,"n":423449},{"p":"C","g":"UF","d":14,"n":389976},{"p":"C","g":"UF","d":28,"n":355886},{"p":"C","g":"UF","d":42,"n":297518},{"p":"C","g":"UF","d":56,"n":222781},{"p":"C","g":"UF","d":70,"n":161645},
{"p":"C","g":"UM","d":0,"n":264563},{"p":"C","g":"UM","d":14,"n":247694},{"p":"C","g":"UM","d":28,"n":227489},{"p":"C","g":"UM","d":42,"n":189864},{"p":"C","g":"UM","d":56,"n":138218},{"p":"C","g":"UM","d":70,"n":93738},
{"p":"C","g":"VF","d":0,"n":268712},{"p":"C","g":"VF","d":14,"n":215370},{"p":"C","g":"VF","d":28,"n":145686},{"p":"C","g":"VF","d":42,"n":90581},{"p":"C","g":"VF","d":56,"n":59444},{"p":"C","g":"VF","d":70,"n":32484},
{"p":"C","g":"VM","d":0,"n":169149},{"p":"C","g":"VM","d":14,"n":130268},{"p":"C","g":"VM","d":28,"n":82223},{"p":"C","g":"VM","d":42,"n":46433},{"p":"C","g":"VM","d":56,"n":27864},{"p":"C","g":"VM","d":70,"n":13764}
]
},
"vconcat": [
{
 "width": 901, "height": 230,
 "title": {"text": "A. Risk of SARS-CoV-2 infection", "offset": 8},
 "data": {"name": "km"},
 "layer": [
  {"transform": [{"filter": "datum.p == 'A'"}],
   "mark": {"type": "area", "interpolate": "step-after", "opacity": 0.3},
   "encoding": {
    "x": {"field": "d", "type": "quantitative", "scale": {"domain": [-3.6, 75.6], "nice": false, "zero": false}, "axis": {"values": [0,14,28,42,56,70], "title": "Follow-up time (days)"}},
    "y": {"field": "lo", "type": "quantitative", "scale": {"domain": [-0.07, 1.68], "nice": false, "zero": false}, "axis": {"values": [0,0.5,1,1.5], "format": ".1f", "title": "Cumulative risk (%)"}},
    "y2": {"field": "hi"},
    "fill": {"field": "g", "type": "nominal", "scale": {"domain": ["UF","UM","VF","VM"], "range": ["#8B0000","#00008B","#FF0000","#00BFFF"]},
      "legend": {"title": null, "orient": "none", "legendX": -16, "legendY": 1363, "direction": "horizontal",
        "symbolType": "M-0.8,0H1V-0.94H-1V0.94H1V0Z", "symbolOpacity": 1, "symbolDash": [25.6, 500], "symbolStrokeWidth": 3,
        "encode": {"symbols": {"update": {"fillOpacity": {"value": 0.3}, "stroke": {"scale": "fill", "field": "value"}, "strokeOpacity": {"value": 1}}}},
        "labelExpr": "datum.value=='UF'?'Unvaccinated, female':datum.value=='UM'?'Unvaccinated, male':datum.value=='VF'?'Vaccinated, female':'Vaccinated, male'"}}
   }},
  {"transform": [{"filter": "datum.p == 'A'"}],
   "mark": {"type": "line", "interpolate": "step-after", "strokeWidth": 2},
   "encoding": {
    "x": {"field": "d", "type": "quantitative"},
    "y": {"field": "y", "type": "quantitative"},
    "stroke": {"field": "g", "type": "nominal", "scale": {"range": ["#8B0000","#00008B","#FF0000","#00BFFF"]}, "legend": null}
   }},
  {"data": {"values": [{"t": "p < 0.0001"}]},
   "mark": {"type": "text", "align": "left", "baseline": "middle", "fontSize": 16, "font": "Liberation Sans", "color": "#000"},
   "encoding": {"x": {"datum": 0, "type": "quantitative"}, "y": {"datum": 1.598, "type": "quantitative"}, "text": {"field": "t"}}}
 ]
},
{
 "width": 901, "height": 40,
 "title": {"text": "Number at risk", "offset": 5.5},
 "data": {"name": "risk"},
 "transform": [{"filter": "datum.p == 'A'"}],
 "mark": {"type": "text", "fontSize": 11.5, "font": "Liberation Sans", "baseline": "middle", "color": "#000", "dy": -3.4},
 "encoding": {
  "x": {"field": "d", "type": "quantitative", "scale": {"domain": [-3.6, 75.6], "nice": false, "zero": false}, "axis": {"values": [0,14,28,42,56,70], "title": "Follow-up time (days)"}},
  "y": {"field": "g", "type": "nominal", "scale": {"type": "point", "domain": ["UF","UM","VF","VM"], "padding": 0.21},
    "axis": {"title": null, "ticks": false, "labelExpr": "'■'", "labelFont": "DejaVu Sans", "labelFontSize": 11, "labelFontWeight": "normal", "labelPadding": 13, "labelOffset": -3.4,
      "labelColor": {"condition": [{"test": "datum.value == 'UF'", "value": "#8B0000"}, {"test": "datum.value == 'UM'", "value": "#00008B"}, {"test": "datum.value == 'VF'", "value": "#FF0000"}], "value": "#00BFFF"}}},
  "text": {"field": "n", "type": "quantitative", "format": "d"}
 }
},
{
 "width": 901, "height": 230,
 "title": {"text": "B. Risk of COVID-19-related hospitalisation", "offset": 8},
 "data": {"name": "km"},
 "layer": [
  {"transform": [{"filter": "datum.p == 'B'"}],
   "mark": {"type": "area", "interpolate": "step-after", "opacity": 0.3},
   "encoding": {
    "x": {"field": "d", "type": "quantitative", "scale": {"domain": [-3.6, 75.6], "nice": false, "zero": false}, "axis": {"values": [0,14,28,42,56,70], "title": "Follow-up time (days)"}},
    "y": {"field": "lo", "type": "quantitative", "scale": {"domain": [-0.0167, 0.3667], "nice": false, "zero": false}, "axis": {"values": [0,0.1,0.2,0.3], "format": ".1f", "title": "Cumulative risk (%)"}},
    "y2": {"field": "hi"},
    "fill": {"field": "g", "type": "nominal"}
   }},
  {"transform": [{"filter": "datum.p == 'B'"}],
   "mark": {"type": "line", "interpolate": "step-after", "strokeWidth": 2},
   "encoding": {
    "x": {"field": "d", "type": "quantitative"},
    "y": {"field": "y", "type": "quantitative"},
    "stroke": {"field": "g", "type": "nominal", "legend": null}
   }},
  {"data": {"values": [{"t": "p < 0.0001"}]},
   "mark": {"type": "text", "align": "left", "baseline": "middle", "fontSize": 16, "font": "Liberation Sans", "color": "#000"},
   "encoding": {"x": {"datum": 0, "type": "quantitative"}, "y": {"datum": 0.348, "type": "quantitative"}, "text": {"field": "t"}}}
 ]
},
{
 "width": 901, "height": 40,
 "title": {"text": "Number at risk", "offset": 5.5},
 "data": {"name": "risk"},
 "transform": [{"filter": "datum.p == 'B'"}],
 "mark": {"type": "text", "fontSize": 11.5, "font": "Liberation Sans", "baseline": "middle", "color": "#000", "dy": -3.4},
 "encoding": {
  "x": {"field": "d", "type": "quantitative", "scale": {"domain": [-3.6, 75.6], "nice": false, "zero": false}, "axis": {"values": [0,14,28,42,56,70], "title": "Follow-up time (days)"}},
  "y": {"field": "g", "type": "nominal", "scale": {"type": "point", "domain": ["UF","UM","VF","VM"], "padding": 0.21},
    "axis": {"title": null, "ticks": false, "labelExpr": "'■'", "labelFont": "DejaVu Sans", "labelFontSize": 11, "labelFontWeight": "normal", "labelPadding": 13, "labelOffset": -3.4,
      "labelColor": {"condition": [{"test": "datum.value == 'UF'", "value": "#8B0000"}, {"test": "datum.value == 'UM'", "value": "#00008B"}, {"test": "datum.value == 'VF'", "value": "#FF0000"}], "value": "#00BFFF"}}},
  "text": {"field": "n", "type": "quantitative", "format": "d"}
 }
},
{
 "width": 901, "height": 230,
 "title": {"text": "C. Risk of COVID-19-related mortality", "offset": 8},
 "data": {"name": "km"},
 "layer": [
  {"transform": [{"filter": "datum.p == 'C'"}],
   "mark": {"type": "area", "interpolate": "step-after", "opacity": 0.3},
   "encoding": {
    "x": {"field": "d", "type": "quantitative", "scale": {"domain": [-3.6, 75.6], "nice": false, "zero": false}, "axis": {"values": [0,14,28,42,56,70], "title": "Follow-up time (days)"}},
    "y": {"field": "lo", "type": "quantitative", "scale": {"domain": [-0.0155, 0.367], "nice": false, "zero": false}, "axis": {"values": [0,0.1,0.2,0.3], "format": ".1f", "title": "Cumulative risk (%)"}},
    "y2": {"field": "hi"},
    "fill": {"field": "g", "type": "nominal"}
   }},
  {"transform": [{"filter": "datum.p == 'C'"}],
   "mark": {"type": "line", "interpolate": "step-after", "strokeWidth": 2},
   "encoding": {
    "x": {"field": "d", "type": "quantitative"},
    "y": {"field": "y", "type": "quantitative"},
    "stroke": {"field": "g", "type": "nominal", "legend": null}
   }},
  {"data": {"values": [{"t": "p < 0.0001"}]},
   "mark": {"type": "text", "align": "left", "baseline": "middle", "fontSize": 16, "font": "Liberation Sans", "color": "#000"},
   "encoding": {"x": {"datum": 0, "type": "quantitative"}, "y": {"datum": 0.347, "type": "quantitative"}, "text": {"field": "t"}}}
 ]
},
{
 "width": 901, "height": 40,
 "title": {"text": "Number at risk", "offset": 5.5},
 "data": {"name": "risk"},
 "transform": [{"filter": "datum.p == 'C'"}],
 "mark": {"type": "text", "fontSize": 11.5, "font": "Liberation Sans", "baseline": "middle", "color": "#000", "dy": -3.4},
 "encoding": {
  "x": {"field": "d", "type": "quantitative", "scale": {"domain": [-3.6, 75.6], "nice": false, "zero": false}, "axis": {"values": [0,14,28,42,56,70], "title": "Follow-up time (days)"}},
  "y": {"field": "g", "type": "nominal", "scale": {"type": "point", "domain": ["UF","UM","VF","VM"], "padding": 0.21},
    "axis": {"title": null, "ticks": false, "labelExpr": "'■'", "labelFont": "DejaVu Sans", "labelFontSize": 11, "labelFontWeight": "normal", "labelPadding": 13, "labelOffset": -3.4,
      "labelColor": {"condition": [{"test": "datum.value == 'UF'", "value": "#8B0000"}, {"test": "datum.value == 'UM'", "value": "#00008B"}, {"test": "datum.value == 'VF'", "value": "#FF0000"}], "value": "#00BFFF"}}},
  "text": {"field": "n", "type": "quantitative", "format": "d"}
 }
}
]
}
